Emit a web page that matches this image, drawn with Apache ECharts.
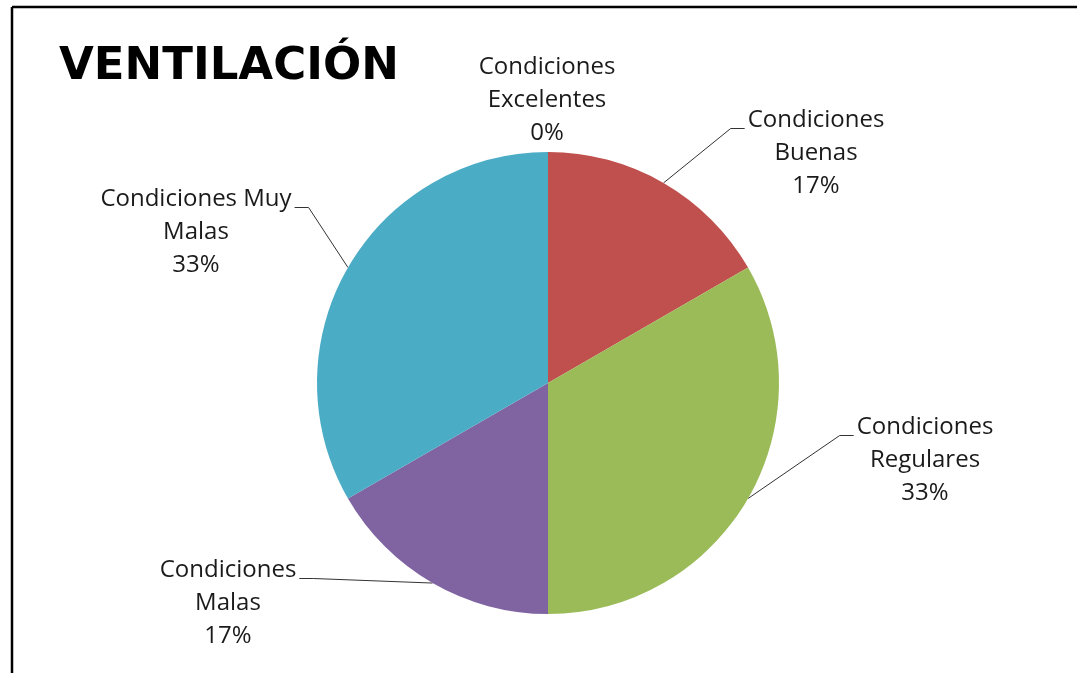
<!DOCTYPE html>
<html>
<head>
<meta charset="utf-8">
<title>Ventilación</title>
<script src="https://cdn.jsdelivr.net/npm/echarts@6.0.0/dist/echarts.min.js"></script>
<style>
  html, body { margin: 0; padding: 0; background: #fff; }
  #main { width: 1077px; height: 673px; }
</style>
</head>
<body>
<div id="main"></div>
<script>
// datos
var categories = [
    'Condiciones\nExcelentes',
    'Condiciones\nBuenas',
    'Condiciones\nRegulares',
    'Condiciones\nMalas',
    'Condiciones Muy\nMalas'
];
var counts = [0, 1, 2, 1, 2];
var colors = ['#4F81BD', '#C0504D', '#9BBB59', '#8064A2', '#4BACC6'];

// centro de cada bloque de texto (solo maquetación)
var labelPos = [[547, 100], [816, 153], [925, 460], [228, 603], [196, 232]];

var chartDom = document.getElementById('main');
var myChart = echarts.init(chartDom);

var data = categories.map(function (name, i) {
    var item = { name: name, value: counts[i], itemStyle: { color: colors[i] } };
    if (counts[i] === 0) {
        item.labelLine = { show: false };
    }
    return item;
});

var option = {
    animation: false,
    backgroundColor: '#fff',
    title: {
        text: 'VENTILACIÓN',
        left: 54,
        top: 40,
        textStyle: {
            fontFamily: 'DejaVu Sans',
            fontWeight: 'bold',
            fontSize: 45,
            color: '#000'
        }
    },
    graphic: [
        { type: 'line', shape: { x1: 12, y1: 7, x2: 1077, y2: 7 }, style: { stroke: '#000', lineWidth: 2.5 } },
        { type: 'line', shape: { x1: 12, y1: 7, x2: 12, y2: 673 }, style: { stroke: '#000', lineWidth: 2.5 } }
    ],
    series: [
        {
            type: 'pie',
            center: [548, 383],
            radius: 231,
            startAngle: 90,
            clockwise: true,
            percentPrecision: 0,
            avoidLabelOverlap: false,
            data: data,
            itemStyle: { borderWidth: 0 },
            label: {
                show: true,
                formatter: '{b}\n{d}%',
                fontFamily: 'Open Sans',
                fontSize: 24,
                lineHeight: 33,
                color: '#1a1a1a',
                align: 'center'
            },
            labelLine: {
                show: true,
                lineStyle: { color: '#333', width: 1 }
            },
            labelLayout: function (params) {
                var i = params.dataIndex;
                var p = labelPos[i];
                var w = params.labelRect.width;
                var h = params.labelRect.height;
                var res = { x: p[0], y: p[1], align: 'center', verticalAlign: 'middle' };
                var pts = params.labelLinePoints;
                if (pts && pts.length) {
                    var anchor = pts[0];
                    var lineY = p[1] - h / 2 + 25;
                    var end, elbow;
                    if (p[0] > 548) {
                        end = [p[0] - w / 2 - 3, lineY];
                        elbow = [end[0] - 14, lineY];
                    } else {
                        end = [p[0] + w / 2 + 3, lineY];
                        elbow = [end[0] + 14, lineY];
                    }
                    res.labelLinePoints = [[anchor[0], anchor[1]], elbow, end];
                }
                return res;
            }
        }
    ]
};

myChart.setOption(option);
</script>
</body>
</html>
